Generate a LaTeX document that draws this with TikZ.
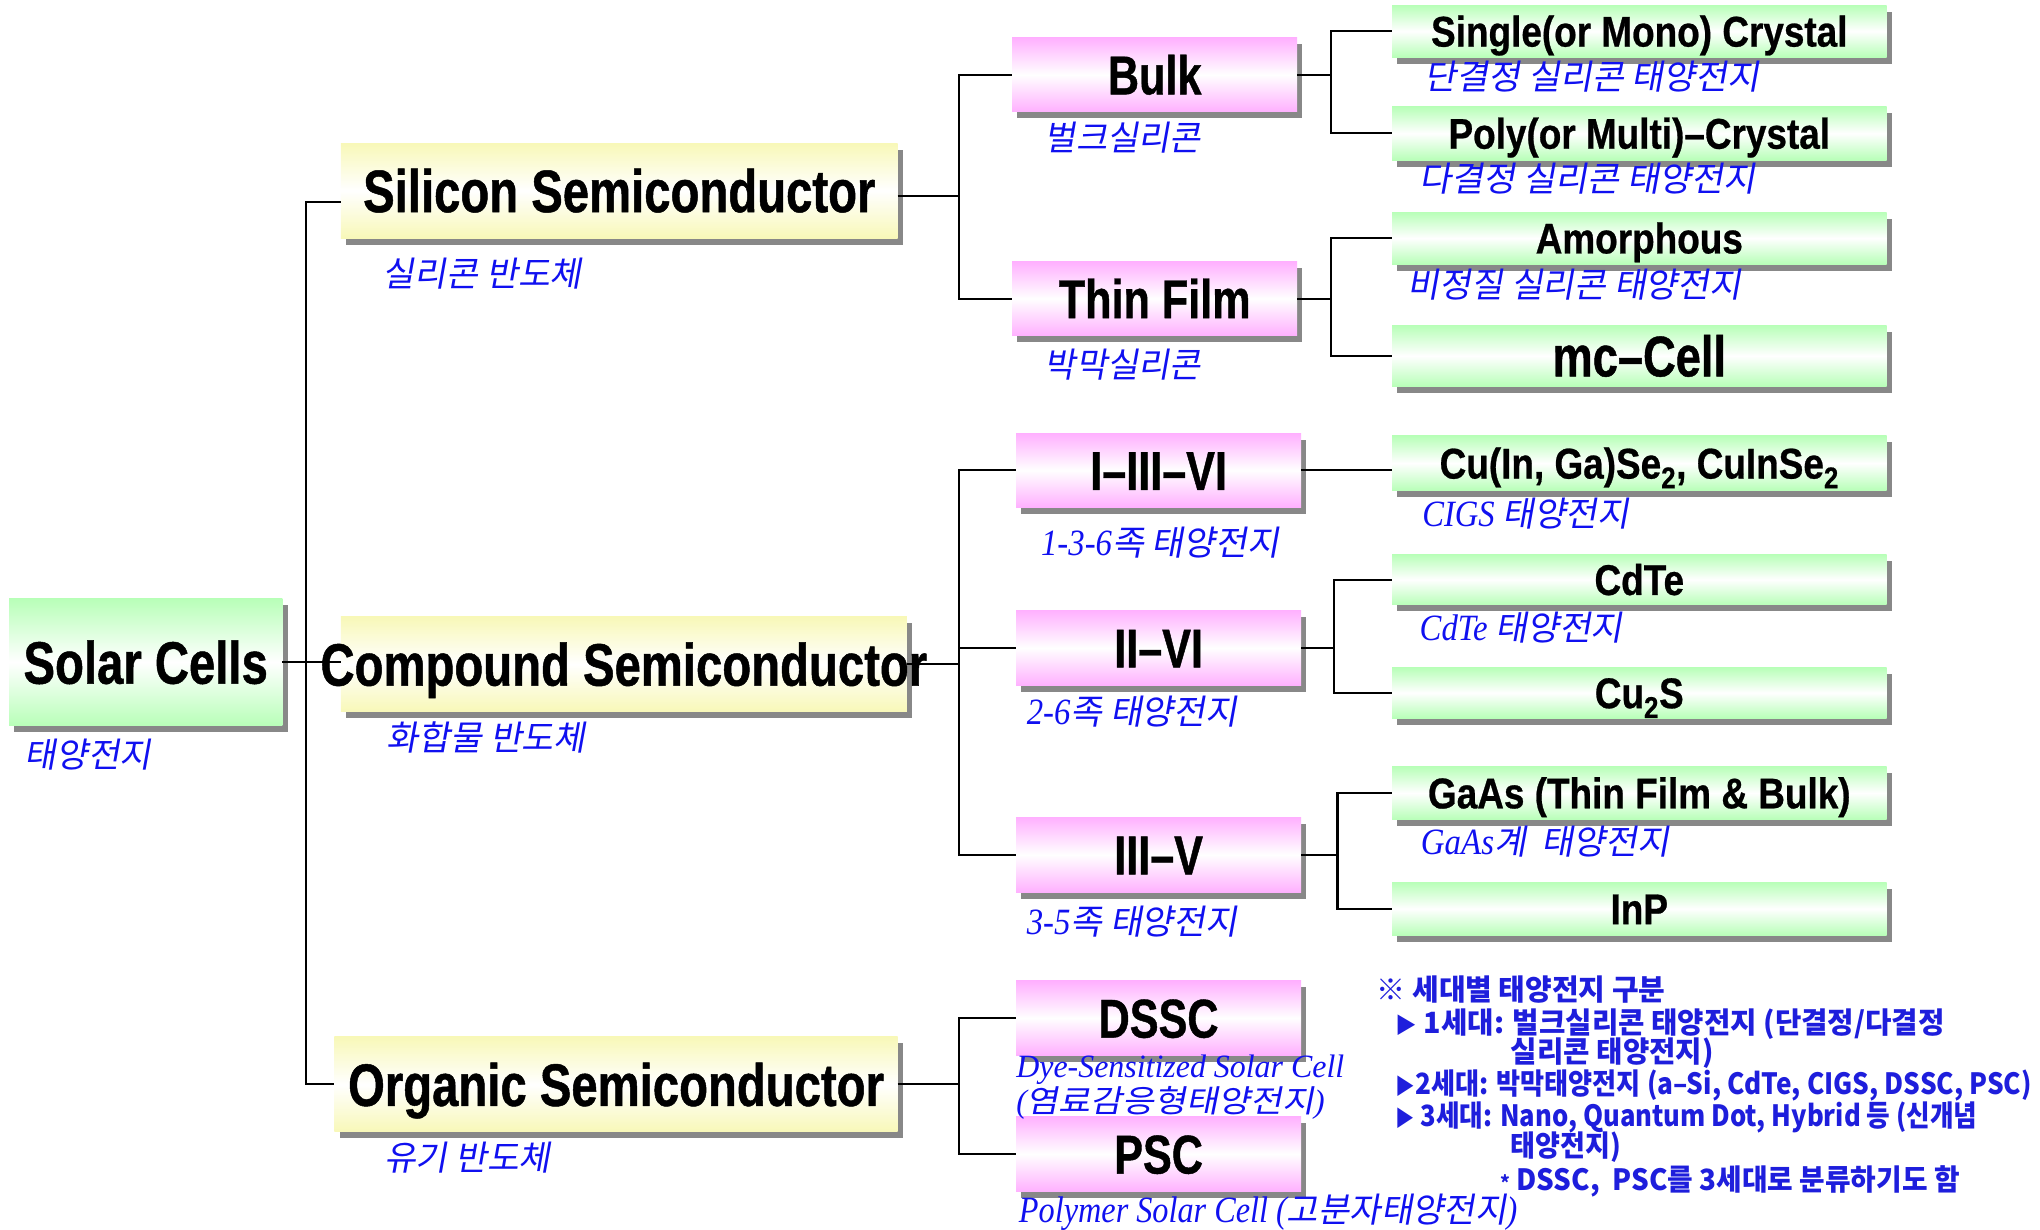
\documentclass[tikz,border=0pt]{standalone}
\usepackage{fontspec}
\usepackage{graphicx}
\usetikzlibrary{shadows}
\newfontfamily\hdfont{Liberation Sans}[FakeStretch=0.79,FakeBold=0.8]
\newfontfamily\hdfontc{Liberation Sans}[FakeStretch=0.86,FakeBold=0.6]
\newfontfamily\krlab{Noto Sans CJK KR}[FakeSlant=0.18]
\newfontfamily\serlab{Liberation Serif}[FakeStretch=0.88]
\newfontfamily\notefont{Noto Sans CJK KR}
\definecolor{ylw}{HTML}{F8F8B8}
\definecolor{pnk}{HTML}{FFB0FF}
\definecolor{grn}{HTML}{B8FFB8}
\definecolor{shd}{HTML}{888888}
\definecolor{labc}{HTML}{1010F0}
\definecolor{notec}{HTML}{1E1EDC}
\newcommand\bxt[1]{\makebox[0pt]{#1}}
\newcommand\fitw[2]{\resizebox{#1pt}{\height}{#2}}
\newcommand\slab[1]{{\serlab\itshape\fontsize{28.5}{30}\selectfont #1}}
\newcommand\slabs[1]{{\serlab\itshape\fontsize{25}{27}\selectfont #1}}
\newcommand\tri{{\scalebox{0.75}{▶}}}
\tikzset{
  base/.style={inner sep=0pt, outer sep=0pt,
    general shadow={fill=shd, shadow xshift=4pt, shadow yshift=-5pt}},
  ybox/.style={base, top color=ylw, bottom color=ylw, middle color=white,
    minimum height=73pt},
  pbox/.style={base, top color=pnk, bottom color=pnk, middle color=white,
    minimum width=219pt, minimum height=57pt},
  gbox/.style={base, top color=grn, bottom color=grn, middle color=white,
    minimum width=380pt, minimum height=41pt},
  tone/.style={font=\hdfont\bfseries\fontsize{46}{50}\selectfont, text height=33pt, text depth=0pt},
  ttwo/.style={font=\hdfont\bfseries\fontsize{42}{46}\selectfont, text height=30pt, text depth=0pt},
  tthree/.style={font=\hdfontc\bfseries\fontsize{33}{36}\selectfont, text height=23.6pt, text depth=0pt},
  lab/.style={font=\krlab\fontsize{26.5}{28}\selectfont, text=labc, inner sep=0pt, anchor=base west},
  notes/.style={font=\notefont\bfseries\fontsize{22.5}{24}\selectfont, text=notec, inner sep=0pt, anchor=base west},
  conn/.style={draw=black, line width=1.6pt},
}
\begin{document}
\begin{tikzpicture}[x=1pt,y=-1pt]
\useasboundingbox (0,0) rectangle (1568,945);
\fill[white] (0,0) rectangle (1568,945);

% ---- boxes ----
\node[gbox, minimum width=210pt, minimum height=98pt, tone] (root) at (112,509) {\bxt{Solar Cells}};
\node[ybox, minimum width=428pt, tone] (sil) at (476,146.5) {\bxt{Silicon Semiconductor}};
\node[ybox, minimum width=435pt, tone] (comp) at (479.5,510.5) {\bxt{}};
\node[ybox, minimum width=433pt, tone] (org) at (473.5,833.5) {\bxt{Organic Semiconductor}};

\node[pbox, ttwo] (bulk) at (887.5,57.5) {\bxt{Bulk}};
\node[pbox, ttwo] (thin) at (887.5,229.5) {\bxt{Thin Film}};
\node[pbox, ttwo] (i3) at (890.5,361.5) {\bxt{I–III–VI}};
\node[pbox, ttwo, minimum height=58pt] (ii) at (890.5,498) {\bxt{II–VI}};
\node[pbox, ttwo, minimum height=58pt] (iii) at (890.5,657) {\bxt{III–V}};
\node[pbox, ttwo] (dssc) at (890.5,782.5) {\bxt{DSSC}};
\node[pbox, ttwo, minimum height=58pt] (psc) at (890.5,887) {\bxt{PSC}};

\node[gbox, minimum height=40pt, tthree] (single) at (1260,24) {\bxt{Single(or Mono) Crystal}};
\node[gbox, tthree] (poly) at (1260,102.5) {\bxt{Poly(or Multi)–Crystal}};
\node[gbox, minimum height=40pt, tthree] (amor) at (1260,183) {\bxt{Amorphous}};
\node[gbox, minimum height=47pt, font=\hdfont\bfseries\fontsize{44}{48}\selectfont, text height=31.5pt, text depth=0pt] (mc) at (1260,273.5) {\bxt{mc–Cell}};
\node[gbox, minimum height=42pt, tthree] (cigs) at (1260,356) {\bxt{Cu(In, Ga)Se\textsubscript{2}, CuInSe\textsubscript{2}}};
\node[gbox, minimum height=39pt, tthree] (cdte) at (1260,445.5) {\bxt{CdTe}};
\node[gbox, minimum height=39pt, tthree] (cu2s) at (1260,532.5) {\bxt{Cu\textsubscript{2}S}};
\node[gbox, tthree] (gaas) at (1260,609.5) {\bxt{GaAs (Thin Film \& Bulk)}};
\node[gbox, tthree] (inp) at (1260,698.5) {\bxt{InP}};

% ---- connectors ----
\draw[conn] (root.east) -- (root.east -| comp.west);
\draw[conn] ([yshift=-8.5pt]sil.west) -- ++(-27,0) coordinate (jT) |- (org.west);
\draw[conn] ([yshift=-4pt]sil.east) -- ++(47,0) coordinate (jS) |- (bulk.west);
\draw[conn] (jS) |- (thin.west);
\draw[conn] (bulk.east) -- ++(26,0) coordinate (jB) |- (single.west);
\draw[conn] (jB) |- (poly.west);
\draw[conn] (thin.east) -- ++(26,0) coordinate (jF) |- (amor.west);
\draw[conn] (jF) |- (mc.west);
\draw[conn] (comp.east) -- ++(40,0) coordinate (jC) |- (i3.west);
\draw[conn] (jC) |- (iii.west);
\draw[conn] (jC) |- (ii.west);
\draw[conn] (i3.east) -- (i3.east -| cigs.west);
\draw[conn] (ii.east) -- ++(25,0) coordinate (jD) |- (cdte.west);
\draw[conn] (jD) |- (cu2s.west);
\draw[conn] (iii.east) -- ++(28,0) coordinate (jE) |- (gaas.west);
\draw[conn] (jE) |- (inp.west);
\draw[conn] (org.east) -- ++(47,0) coordinate (jO) |- (dssc.west);
\draw[conn] (jO) |- (psc.west);

% overflowing text of the compound box, drawn on top of its connector
\node[tone, inner sep=0pt] (comptext) at (comp.center) {\bxt{Compound Semiconductor}};

% ---- labels ----
\node[lab] (lroot) at (19,590) {\fitw{97}{태양전지}};
\node[lab] (lsil) at (294,220) {\fitw{153}{실리콘 반도체}};
\node[lab] (lcomp) at (297,577) {\fitw{153}{화합물 반도체}};
\node[lab] (lorg) at (295,900) {\fitw{128}{유기 반도체}};
\node[lab] (lbulk) at (803,116) {\fitw{120}{벌크실리콘}};
\node[lab] (lthin) at (803,290) {\fitw{120}{박막실리콘}};
\node[lab] (lsingle) at (1095,69) {\fitw{257}{단결정 실리콘 태양전지}};
\node[lab] (lpoly) at (1091,147) {\fitw{258}{다결정 실리콘 태양전지}};
\node[lab] (lamor) at (1082,229) {\fitw{256}{비정질 실리콘 태양전지}};
\node[lab] (li3) at (800,427) {\fitw{183}{\slab{1-3-6}족 태양전지}};
\node[lab] (lii) at (789,557) {\fitw{162}{\slab{2-6}족 태양전지}};
\node[lab] (liii) at (789,718) {\fitw{162}{\slab{3-5}족 태양전지}};
\node[lab] (lcigs) at (1093,405) {\fitw{159}{\slab{CIGS} 태양전지}};
\node[lab] (lcdte) at (1091,492) {\fitw{156}{\slab{CdTe} 태양전지}};
\node[lab] (lgaas) at (1092,657) {\fitw{191}{\slab{GaAs}계\ \ 태양전지}};
\node[lab] (ldssc) at (781,828) {\fitw{252}{\slabs{Dye-Sensitized Solar Cell}}};
\node[lab, font=\krlab\fontsize{24}{26}\selectfont] (ldssc2) at (781,855) {\fitw{237}{\slabs{(}염료감응형태양전지\slabs{)}}};
\node[lab] (lpsc) at (783,940) {\fitw{383}{\slab{Polymer Solar Cell (}고분자태양전지\slab{)}}};

% ---- notes ----
\node[notes] (n1) at (1058,769) {\fitw{222}{※ 세대별 태양전지 구분}};
\node[notes] (n2) at (1072.5,794) {\fitw{422}{\tri\ 1세대: 벌크실리콘 태양전지 (단결정/다결정}};
\node[notes] (n3) at (1161,817) {\fitw{156}{실리콘 태양전지)}};
\node[notes] (n4) at (1072.5,841) {\fitw{489}{\tri2세대: 박막태양전지 (a–Si, CdTe, CIGS, DSSC, PSC)}};
\node[notes] (n5) at (1072.5,866) {\fitw{447}{\tri\ 3세대: Nano, Quantum Dot, Hybrid 등 (신개념}};
\node[notes] (n6) at (1161,889) {\fitw{85}{태양전지)}};
\node[notes] (n7) at (1153,915) {\fitw{353}{{\fontsize{15}{16}\selectfont *} DSSC,\ \ PSC를 3세대로 분류하기도 함}};
\end{tikzpicture}
\end{document}
